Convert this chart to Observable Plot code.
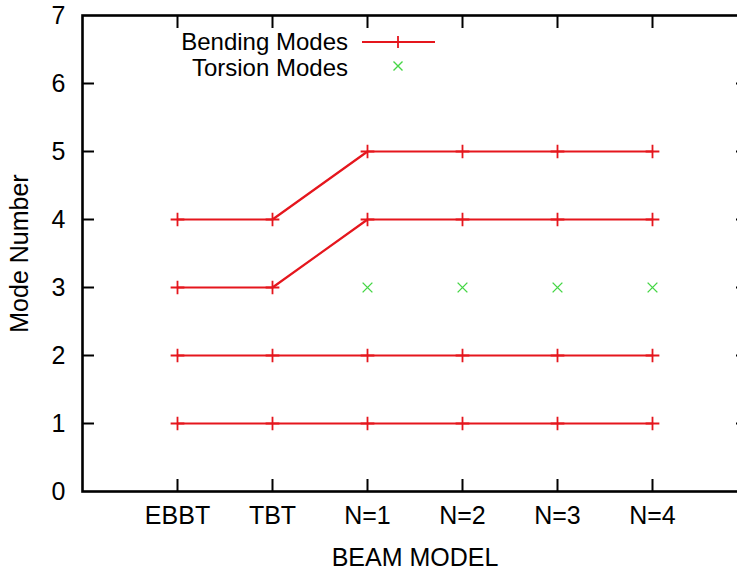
<!DOCTYPE html>
<html>
<head>
<meta charset="utf-8">
<script src="https://cdn.jsdelivr.net/npm/d3@7"></script>
<script src="https://cdn.jsdelivr.net/npm/@observablehq/plot@0.6"></script>
<style>
  html, body { margin: 0; padding: 0; background: #fff; }
  #wrap { position: relative; width: 737px; height: 571px; overflow: hidden; font-family: "Liberation Sans", Arial, sans-serif; }
  #legend { position: absolute; left: 0; top: 0; width: 737px; height: 100px; pointer-events: none; }
</style>
</head>
<body>
<div id="wrap"></div>
<script>
// ---- data ----
const models = ["EBBT", "TBT", "N=1", "N=2", "N=3", "N=4"];
const bendingMode1 = [1, 1, 1, 1, 1, 1];
const bendingMode2 = [2, 2, 2, 2, 2, 2];
const bendingMode3 = [3, 3, 4, 4, 4, 4];
const bendingMode4 = [4, 4, 5, 5, 5, 5];
const torsionModels = ["N=1", "N=2", "N=3", "N=4"];
const torsionModes = [3, 3, 3, 3];
const yTicks = [0, 1, 2, 3, 4, 5, 6, 7];
const xTicks = [1, 2, 3, 4, 5, 6];
const seriesNames = ["Bending Modes", "Torsion Modes"];
const xLabel = "BEAM MODEL";
const yLabel = "Mode Number";

const RED = "#e5161d";
const GREEN = "#45d645";

// build tables
const pos = m => models.indexOf(m) + 1;
const bending = [];
[bendingMode1, bendingMode2, bendingMode3, bendingMode4].forEach((arr, k) => {
  arr.forEach((v, i) => bending.push({series: k, x: pos(models[i]), y: v}));
});
const torsion = torsionModels.map((m, i) => ({x: pos(m), y: torsionModes[i]}));

const FONT = 25;
const W = 737, H = 571, ML = 82, MR = -10, MT = 15, MB = 80;
const XMAX = 7, YMAX = 7;
const innerY = yTicks.slice(1, -1);
const tickOpts = {tickSize: -12, tickFormat: () => "", label: null, strokeWidth: 2, stroke: "black"};

const plot = Plot.plot({
  width: W,
  height: H,
  marginLeft: ML,
  marginRight: MR,
  marginTop: MT,
  marginBottom: MB,
  style: {fontSize: FONT + "px", color: "black", background: "white"},
  x: {domain: [0, XMAX]},
  y: {domain: [0, YMAX]},
  marks: [
    Plot.axisX(xTicks, {
      tickSize: 0, tickPadding: 15, fontSize: FONT,
      tickFormat: d => models[d - 1],
      label: xLabel, labelAnchor: "center", labelOffset: 74, labelArrow: "none"
    }),
    Plot.axisY(yTicks, {
      tickSize: 0, tickPadding: 17, fontSize: FONT,
      tickFormat: d => String(d),
      label: yLabel, labelAnchor: "center", labelOffset: 72, labelArrow: "none"
    }),
    Plot.line(bending, {x: "x", y: "y", z: "series", stroke: RED, strokeWidth: 2.2}),
    Plot.dot(bending, {x: "x", y: "y", symbol: "plus", r: 4.5, stroke: RED, strokeWidth: 1.8}),
    Plot.dot(torsion, {x: "x", y: "y", symbol: "times", r: 4.5, stroke: GREEN, strokeWidth: 1.4}),
    Plot.frame({stroke: "black", strokeWidth: 2.6}),
    // inward border ticks on all four sides (negative tick size)
    Plot.axisX(xTicks, {anchor: "bottom", ...tickOpts}),
    Plot.axisX(xTicks, {anchor: "top", ...tickOpts}),
    Plot.axisY(innerY, {anchor: "left", ...tickOpts}),
    Plot.axisY(innerY, {anchor: "right", ...tickOpts})
  ]
});
plot.querySelectorAll("text").forEach(t => t.setAttribute("font-family", '"Liberation Sans", Arial, sans-serif'));
plot.setAttribute("font-family", '"Liberation Sans", Arial, sans-serif');
const wrap = document.getElementById("wrap");
wrap.appendChild(plot);

// legend overlay
const ns = "http://www.w3.org/2000/svg";
const lg = document.createElementNS(ns, "svg");
lg.setAttribute("id", "legend");
lg.setAttribute("width", 737);
lg.setAttribute("height", 100);
function el(tag, attrs, text) {
  const e = document.createElementNS(ns, tag);
  for (const k in attrs) e.setAttribute(k, attrs[k]);
  if (text) e.textContent = text;
  lg.appendChild(e);
  return e;
}
const tStyle = {"font-family": '"Liberation Sans", Arial, sans-serif', "font-size": 24, "text-anchor": "end", "dominant-baseline": "central", fill: "#000"};
el("text", {...tStyle, x: 348, y: 41}, seriesNames[0]);
el("text", {...tStyle, x: 348, y: 67}, seriesNames[1]);
el("line", {x1: 362, x2: 435, y1: 42, y2: 42, stroke: RED, "stroke-width": 2.2});
el("path", {d: "M392,42h12M398,36v12", stroke: RED, "stroke-width": 1.8, fill: "none"});
el("path", {d: "M393.5,61.5l9,9M402.5,61.5l-9,9", stroke: GREEN, "stroke-width": 1.4, fill: "none"});
wrap.appendChild(lg);
</script>
</body>
</html>
